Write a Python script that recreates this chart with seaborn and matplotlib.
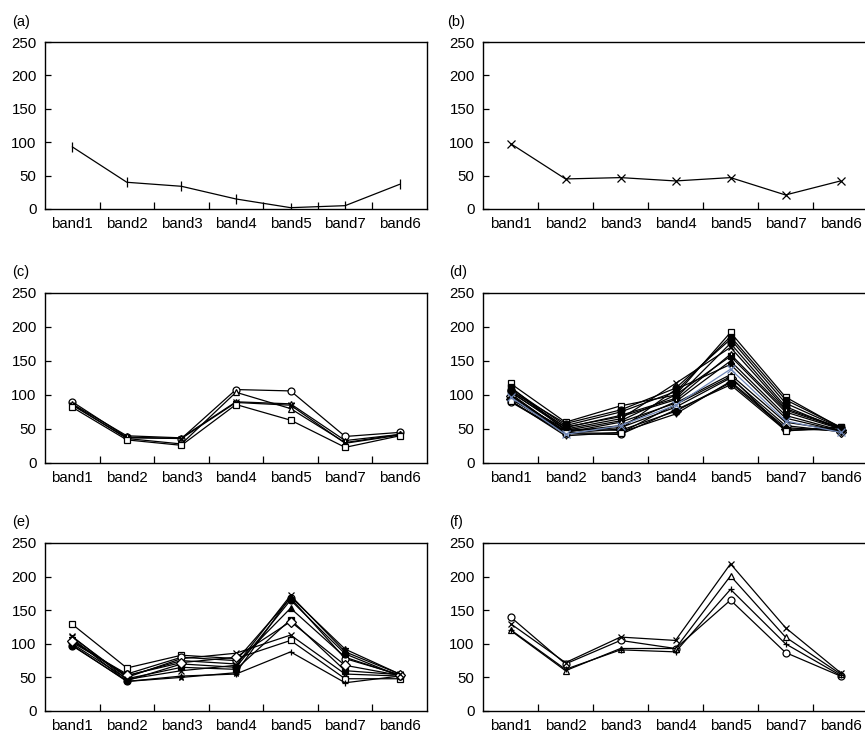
import matplotlib
matplotlib.use("Agg")
import matplotlib.pyplot as plt
import seaborn as sns

bands = ["band1", "band2", "band3", "band4", "band5", "band7", "band6"]

# (a) one series, vertical bar markers
a_vals = [93, 40, 34, 15, 2, 5, 37]

# (b) one series, x markers
b_vals = [98, 45, 47, 42, 47, 21, 42]

# (c) five series
c_circle = [90, 38, 36, 108, 106, 39, 45]
c_tri = [86, 36, 28, 104, 80, 30, 42]
c_star = [87, 40, 37, 90, 87, 33, 42]
c_x = [85, 37, 36, 89, 85, 29, 41]
c_square = [82, 34, 26, 86, 63, 23, 40]

# (d) many series, one in blue
d_series = [
    [117, 60, 84, 100, 192, 97, 52],
    [110, 55, 75, 105, 186, 93, 53],
    [108, 52, 70, 95, 176, 83, 50],
    [105, 50, 65, 117, 170, 80, 52],
    [112, 48, 62, 100, 157, 75, 50],
    [100, 46, 55, 90, 150, 70, 48],
    [102, 44, 50, 108, 145, 66, 47],
    [95, 45, 60, 88, 130, 60, 48],
    [92, 40, 45, 72, 120, 52, 47],
    [90, 43, 42, 78, 115, 48, 50],
    [98, 47, 52, 82, 125, 55, 46],
    [104, 53, 68, 93, 160, 78, 51],
    [94, 50, 48, 76, 118, 50, 49],
    [91, 44, 44, 86, 127, 47, 53],
    [106, 58, 78, 110, 182, 88, 52],
]
d_blue = [97, 42, 55, 85, 138, 62, 45]

# (e) ten series
e_series = [
    [129, 64, 83, 78, 105, 48, 48],
    [98, 44, 52, 55, 88, 42, 52],
    [110, 50, 78, 86, 113, 55, 52],
    [100, 48, 65, 62, 136, 60, 54],
    [105, 52, 75, 70, 153, 80, 53],
    [108, 44, 50, 57, 170, 92, 55],
    [102, 55, 80, 75, 168, 78, 54],
    [97, 45, 70, 65, 165, 85, 52],
    [104, 53, 72, 80, 133, 68, 53],
    [111, 47, 60, 68, 172, 88, 55],
]

# (f) four series
f_circle = [140, 70, 105, 93, 165, 87, 52]
f_x = [130, 72, 110, 105, 219, 124, 57]
f_tri = [120, 60, 93, 93, 201, 110, 55]
f_plus = [121, 62, 91, 88, 181, 100, 53]

# marker styles: (marker, filled)
d_markers = [("s", False), ("s", True), ("o", True), ("x", False), ("s", True),
             ("^", True), ("*", True), ("^", False), ("+", False), ("o", False),
             ("D", False), ("*", False), ("D", True), ("s", False), ("o", True)]
e_markers = [("s", False), ("+", False), ("x", False), ("s", True), ("^", True),
             ("*", True), ("o", False), ("o", True), ("D", False), ("x", False)]

sns.set_style("white")
plt.rcParams["font.family"] = ["Liberation Sans", "DejaVu Sans"]
plt.rcParams["font.size"] = 10.5
plt.rcParams["text.color"] = "black"
plt.rcParams["xtick.color"] = "black"
plt.rcParams["ytick.color"] = "black"

fig = plt.figure(figsize=(8.65, 7.32), dpi=100)
W, H = 865, 732


def make_ax(left, right, top, bottom):
    return fig.add_axes([left / W, 1 - bottom / H, (right - left) / W, (bottom - top) / H])


def line(ax, vals, marker, filled=False, color="black", ms=5):
    sns.lineplot(x=bands, y=vals, ax=ax, sort=False, color=color, lw=0.9,
                 marker=marker, markersize=ms, markeredgecolor=color,
                 markerfacecolor=(color if filled else "white"),
                 markeredgewidth=0.9)


def style(ax):
    ax.set_xlim(-0.5, 6.5)
    ax.set_ylim(0, 250)
    ax.set_yticks([0, 50, 100, 150, 200, 250])
    ax.set_xticks(range(7))
    ax.set_xticklabels(bands)
    ax.set_xticks([0.5, 1.5, 2.5, 3.5, 4.5, 5.5], minor=True)
    ax.tick_params(axis="x", which="major", length=0, pad=6, labelsize=10.8)
    ax.tick_params(axis="x", which="minor", length=5, direction="in", width=0.9, bottom=True)
    ax.tick_params(axis="y", length=4, direction="in", width=0.9, left=True, pad=6, labelsize=10.8)
    ax.set_xlabel("")
    ax.set_ylabel("")
    for s in ax.spines.values():
        s.set_linewidth(1.0)
        s.set_color("black")


lefts = (45, 427)
rights = (483, 868)
rows = [(42, 209), (293, 463), (543, 711)]

ax_a = make_ax(*lefts, *rows[0])
line(ax_a, a_vals, "|", ms=7)
style(ax_a)

ax_b = make_ax(*rights, *rows[0])
line(ax_b, b_vals, "x", ms=6)
style(ax_b)

ax_c = make_ax(*lefts, *rows[1])
for vals, mk in [(c_circle, "o"), (c_tri, "^"), (c_star, "*"), (c_x, "x"), (c_square, "s")]:
    line(ax_c, vals, mk)
style(ax_c)

ax_d = make_ax(*rights, *rows[1])
for vals, (mk, fl) in zip(d_series, d_markers):
    line(ax_d, vals, mk, filled=fl)
line(ax_d, d_blue, "x", color="#6f86b6", ms=6)
style(ax_d)

ax_e = make_ax(*lefts, *rows[2])
for vals, (mk, fl) in zip(e_series, e_markers):
    line(ax_e, vals, mk, filled=fl)
style(ax_e)

ax_f = make_ax(*rights, *rows[2])
for vals, mk in [(f_circle, "o"), (f_x, "x"), (f_tri, "^"), (f_plus, "+")]:
    line(ax_f, vals, mk, ms=5)
style(ax_f)

for lab, x, y in [("(a)", 12, 22), ("(b)", 447, 22), ("(c)", 12, 272),
                  ("(d)", 449, 272), ("(e)", 12, 522), ("(f)", 449, 522)]:
    fig.text(x / W, 1 - y / H, lab, va="center", ha="left", fontsize=10.5)

fig.savefig("out.png", dpi=100)
